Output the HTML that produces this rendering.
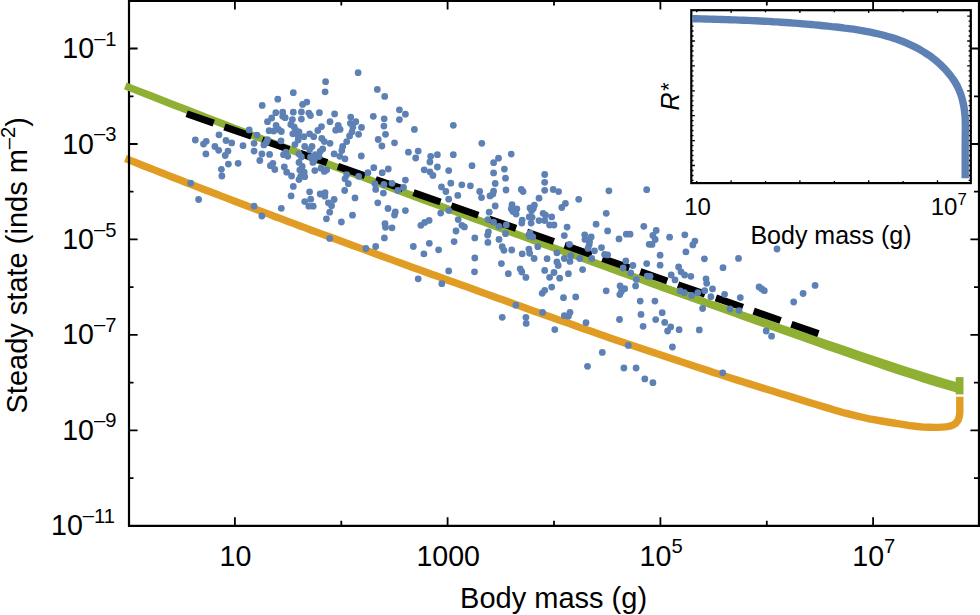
<!DOCTYPE html>
<html lang="en"><head><meta charset="utf-8"><title>Steady state vs body mass</title>
<style>html,body{margin:0;padding:0;background:#fff}body{width:980px;height:615px;overflow:hidden}svg{display:block}text{font-family:"Liberation Sans",Arial,Helvetica,sans-serif;fill:#000}</style></head><body>
<svg width="980" height="615" viewBox="0 0 980 615">
<rect x="0" y="0" width="980" height="615" fill="#fff"/>
<path d="M125.4,158.5 L131.4,160.9 L137.4,163.3 L143.4,165.7 L149.4,168.0 L155.4,170.4 L161.4,172.8 L167.4,175.1 L173.4,177.5 L179.4,179.8 L185.4,182.2 L191.4,184.5 L197.4,186.9 L203.4,189.2 L209.4,191.5 L215.4,193.8 L221.4,196.1 L227.4,198.4 L233.4,200.7 L239.4,203.0 L245.4,205.3 L251.4,207.6 L257.4,209.9 L263.4,212.2 L269.4,214.4 L275.4,216.7 L281.4,218.9 L287.4,221.2 L293.4,223.4 L299.4,225.7 L305.4,227.9 L311.4,230.2 L317.4,232.4 L323.4,234.6 L329.4,236.8 L335.4,239.0 L341.4,241.3 L347.4,243.5 L353.4,245.7 L359.4,247.9 L365.4,250.1 L371.4,252.3 L377.4,254.5 L383.4,256.7 L389.4,258.9 L395.4,261.1 L401.4,263.3 L407.4,265.5 L413.4,267.7 L419.4,269.8 L425.4,272.0 L431.4,274.2 L437.4,276.3 L443.4,278.5 L449.4,280.7 L455.4,282.8 L461.4,285.0 L467.4,287.1 L473.4,289.3 L479.4,291.4 L485.4,293.6 L491.4,295.8 L497.4,298.0 L503.4,300.1 L509.4,302.3 L515.4,304.5 L521.4,306.6 L527.4,308.8 L533.4,310.9 L539.4,313.0 L545.4,315.2 L551.4,317.3 L557.4,319.4 L563.4,321.5 L569.4,323.6 L575.4,325.8 L581.4,327.9 L587.4,330.0 L593.4,332.1 L599.4,334.2 L605.4,336.3 L611.4,338.4 L617.4,340.5 L623.4,342.6 L629.4,344.6 L635.4,346.6 L641.4,348.6 L647.4,350.6 L653.4,352.6 L659.4,354.6 L665.4,356.6 L671.4,358.6 L677.4,360.6 L683.4,362.5 L689.4,364.5 L695.4,366.5 L701.4,368.5 L707.4,370.4 L713.4,372.4 L719.4,374.3 L725.4,376.3 L731.4,378.2 L737.4,380.1 L743.4,382.0 L749.4,383.9 L755.4,385.8 L761.4,387.6 L767.4,389.5 L773.4,391.3 L779.4,393.2 L785.4,395.0 L791.4,396.9 L797.4,398.8 L803.4,400.6 L809.4,402.5 L815.4,404.3 L821.4,406.1 L827.4,407.9 L833.4,409.7 L839.4,411.5 L845.4,413.2 L851.4,414.7 L857.4,416.1 L863.4,417.5 L869.4,418.8 L875.4,419.9 L881.4,421.0 L887.4,422.0 L893.4,423.0 L899.4,423.9 L905.4,424.9 L911.4,425.8 L917.4,426.5 L923.4,427.1 L929.4,427.3 L935.4,427.4 L936,427.4 C950,427.6 959.8,426 959.8,412 L959.8,396.7" fill="none" stroke="#E19C24" stroke-width="7.4" stroke-linejoin="round"/>
<g stroke="#000" fill="none">
<path d="M129.0,0 V525.8 H980" stroke-width="2.2"/>
<path d="M129.0,0.9 H980" stroke-width="2"/>
<path d="M979.0,0 V525.8" stroke-width="2.2"/>
<path d="M234.9,525.8 v-8.5 M234.9,0.9 v8.6 M341.3,525.8 v-5 M341.3,0.9 v4.6 M447.6,525.8 v-8.5 M447.6,0.9 v8.6 M554.0,525.8 v-5 M554.0,0.9 v4.6 M660.4,525.8 v-8.5 M660.4,0.9 v8.6 M766.8,525.8 v-5 M766.8,0.9 v4.6 M873.1,525.8 v-8.5 M873.1,0.9 v8.6 M129.0,478.1 h4.5 M979.0,478.1 h-5 M129.0,430.3 h8.6 M979.0,430.3 h-8.6 M129.0,382.6 h4.5 M979.0,382.6 h-5 M129.0,334.9 h8.6 M979.0,334.9 h-8.6 M129.0,287.2 h4.5 M979.0,287.2 h-5 M129.0,239.4 h8.6 M979.0,239.4 h-8.6 M129.0,191.7 h4.5 M979.0,191.7 h-5 M129.0,144.0 h8.6 M979.0,144.0 h-8.6 M129.0,96.3 h4.5 M979.0,96.3 h-5 M129.0,48.5 h8.6 M979.0,48.5 h-8.6" stroke-width="1.8"/>
</g>
<path d="M125.3,85.9 L137.3,90.6 L149.3,95.3 L161.3,100.0 L173.3,104.7 L185.3,109.3 L197.3,114.0 L209.3,118.6 L221.3,123.3 L233.3,127.9 L245.3,132.5 L257.3,137.1 L269.3,141.7 L281.3,146.3 L293.3,150.8 L305.3,155.4 L317.3,160.0 L329.3,164.5 L341.3,169.0 L353.3,173.5 L365.3,178.1 L377.3,182.6 L389.3,187.0 L401.3,191.5 L413.3,196.0 L425.3,200.5 L437.3,204.9 L449.3,209.4 L461.3,213.8 L473.3,218.2 L485.3,222.6 L497.3,227.1 L509.3,231.5 L521.3,235.9 L533.3,240.3 L545.3,244.7 L557.3,249.1 L569.3,253.5 L581.3,257.8 L593.3,262.2 L605.3,266.6 L617.3,270.9 L629.3,275.3 L641.3,279.6 L653.3,283.9 L665.3,288.2 L677.3,292.5 L689.3,296.7 L701.3,300.9 L713.3,305.1 L725.3,309.3 L737.3,313.4 L749.3,317.5 L761.3,321.6 L773.3,325.7 L785.3,329.8 L797.3,333.9 L809.3,338.0 L821.3,342.0 L833.3,346.1 L845.3,350.1 L857.3,354.2 L869.3,358.2 L881.3,362.2 L893.3,366.3 L905.3,370.2 L917.3,374.1 L929.3,377.9 L941.3,381.5 L953.3,385.1 L959.8,387.0" fill="none" stroke="#8FB032" stroke-width="7.4" stroke-linejoin="round"/>
<path d="M660.0,286.3 L672.0,290.6 L684.0,294.8 L696.0,299.1 L708.0,303.4 L720.0,307.7 L732.0,312.1 L744.0,316.4 L756.0,320.7 L768.0,325.0 L780.0,329.3 L792.0,333.6 L804.0,337.8 L816.0,342.1 L828.0,346.4 L840.0,350.6 L852.0,354.8 L864.0,358.9 L876.0,363.1 L888.0,367.2 L900.0,371.2 L912.0,375.1 L924.0,378.9 L936.0,382.6 L948.0,386.3 L959.8,389.7" fill="none" stroke="#8FB032" stroke-width="7.4" stroke-linejoin="round"/>
<path d="M959.6,377.1 V394.4" fill="none" stroke="#8FB032" stroke-width="7.8"/>
<path d="M186.7,113.72 L818.5,333.65" fill="none" stroke="#000" stroke-width="7" stroke-dasharray="28.6 11.42"/>
<g fill="#5E81B5">
<circle cx="325.6" cy="81.7" r="3.4"/>
<circle cx="325.1" cy="91.8" r="3.4"/>
<circle cx="293.3" cy="92.7" r="3.4"/>
<circle cx="277.8" cy="99.2" r="3.4"/>
<circle cx="262.2" cy="105.4" r="3.4"/>
<circle cx="306.8" cy="102.1" r="3.4"/>
<circle cx="302.6" cy="104.4" r="3.4"/>
<circle cx="275.8" cy="112.7" r="3.4"/>
<circle cx="282.7" cy="112.2" r="3.4"/>
<circle cx="293.3" cy="112.2" r="3.4"/>
<circle cx="301.4" cy="111.9" r="3.4"/>
<circle cx="308.8" cy="113.1" r="3.4"/>
<circle cx="310.4" cy="115.5" r="3.4"/>
<circle cx="319.4" cy="112.7" r="3.4"/>
<circle cx="271.7" cy="118.0" r="3.4"/>
<circle cx="267.5" cy="121.7" r="3.4"/>
<circle cx="282.7" cy="116.3" r="3.4"/>
<circle cx="292.4" cy="119.6" r="3.4"/>
<circle cx="301.4" cy="119.1" r="3.4"/>
<circle cx="276.1" cy="125.3" r="3.4"/>
<circle cx="290.8" cy="124.5" r="3.4"/>
<circle cx="294.1" cy="126.9" r="3.4"/>
<circle cx="269.1" cy="130.7" r="3.4"/>
<circle cx="273.7" cy="131.0" r="3.4"/>
<circle cx="278.6" cy="129.4" r="3.4"/>
<circle cx="281.3" cy="131.5" r="3.4"/>
<circle cx="321.5" cy="126.6" r="3.4"/>
<circle cx="317.8" cy="130.5" r="3.4"/>
<circle cx="295.7" cy="130.2" r="3.4"/>
<circle cx="299.0" cy="131.8" r="3.4"/>
<circle cx="292.8" cy="133.8" r="3.4"/>
<circle cx="298.2" cy="135.9" r="3.4"/>
<circle cx="303.9" cy="136.7" r="3.4"/>
<circle cx="309.6" cy="133.8" r="3.4"/>
<circle cx="313.7" cy="136.7" r="3.4"/>
<circle cx="249.2" cy="129.9" r="3.4"/>
<circle cx="257.0" cy="135.1" r="3.4"/>
<circle cx="219.0" cy="134.8" r="3.4"/>
<circle cx="195.3" cy="140.0" r="3.4"/>
<circle cx="206.2" cy="141.3" r="3.4"/>
<circle cx="203.5" cy="144.1" r="3.4"/>
<circle cx="226.0" cy="140.5" r="3.4"/>
<circle cx="231.7" cy="142.9" r="3.4"/>
<circle cx="243.0" cy="145.7" r="3.4"/>
<circle cx="254.1" cy="143.3" r="3.4"/>
<circle cx="267.5" cy="139.7" r="3.4"/>
<circle cx="266.3" cy="142.4" r="3.4"/>
<circle cx="263.9" cy="144.9" r="3.4"/>
<circle cx="281.0" cy="140.8" r="3.4"/>
<circle cx="298.2" cy="140.0" r="3.4"/>
<circle cx="294.9" cy="144.6" r="3.4"/>
<circle cx="321.8" cy="138.4" r="3.4"/>
<circle cx="324.3" cy="141.6" r="3.4"/>
<circle cx="214.9" cy="146.5" r="3.4"/>
<circle cx="218.7" cy="150.3" r="3.4"/>
<circle cx="228.0" cy="151.1" r="3.4"/>
<circle cx="225.2" cy="155.5" r="3.4"/>
<circle cx="205.9" cy="153.9" r="3.4"/>
<circle cx="254.1" cy="151.1" r="3.4"/>
<circle cx="261.9" cy="153.9" r="3.4"/>
<circle cx="269.6" cy="154.4" r="3.4"/>
<circle cx="285.9" cy="152.2" r="3.4"/>
<circle cx="283.5" cy="154.7" r="3.4"/>
<circle cx="304.7" cy="146.5" r="3.4"/>
<circle cx="312.0" cy="146.5" r="3.4"/>
<circle cx="309.6" cy="149.8" r="3.4"/>
<circle cx="322.7" cy="149.0" r="3.4"/>
<circle cx="320.2" cy="151.4" r="3.4"/>
<circle cx="299.0" cy="153.9" r="3.4"/>
<circle cx="315.3" cy="154.7" r="3.4"/>
<circle cx="330.0" cy="121.7" r="3.4"/>
<circle cx="228.4" cy="164.1" r="3.4"/>
<circle cx="238.1" cy="163.3" r="3.4"/>
<circle cx="221.4" cy="169.3" r="3.4"/>
<circle cx="221.9" cy="176.0" r="3.4"/>
<circle cx="190.7" cy="183.2" r="3.4"/>
<circle cx="198.6" cy="199.5" r="3.4"/>
<circle cx="254.1" cy="206.2" r="3.4"/>
<circle cx="261.9" cy="216.0" r="3.4"/>
<circle cx="281.3" cy="208.3" r="3.4"/>
<circle cx="259.8" cy="160.5" r="3.4"/>
<circle cx="270.4" cy="165.7" r="3.4"/>
<circle cx="272.9" cy="163.3" r="3.4"/>
<circle cx="274.8" cy="169.5" r="3.4"/>
<circle cx="284.3" cy="166.9" r="3.4"/>
<circle cx="286.7" cy="172.2" r="3.4"/>
<circle cx="291.6" cy="176.0" r="3.4"/>
<circle cx="299.0" cy="162.4" r="3.4"/>
<circle cx="302.2" cy="166.5" r="3.4"/>
<circle cx="299.8" cy="170.1" r="3.4"/>
<circle cx="304.2" cy="172.2" r="3.4"/>
<circle cx="300.6" cy="176.3" r="3.4"/>
<circle cx="304.7" cy="176.7" r="3.4"/>
<circle cx="299.0" cy="179.6" r="3.4"/>
<circle cx="312.9" cy="162.4" r="3.4"/>
<circle cx="314.8" cy="170.6" r="3.4"/>
<circle cx="321.0" cy="168.2" r="3.4"/>
<circle cx="324.3" cy="171.4" r="3.4"/>
<circle cx="326.7" cy="169.8" r="3.4"/>
<circle cx="293.3" cy="186.4" r="3.4"/>
<circle cx="291.1" cy="195.9" r="3.4"/>
<circle cx="309.6" cy="191.8" r="3.4"/>
<circle cx="320.2" cy="194.0" r="3.4"/>
<circle cx="325.1" cy="192.7" r="3.4"/>
<circle cx="324.8" cy="196.2" r="3.4"/>
<circle cx="310.7" cy="199.2" r="3.4"/>
<circle cx="304.7" cy="201.6" r="3.4"/>
<circle cx="308.8" cy="206.2" r="3.4"/>
<circle cx="313.2" cy="206.2" r="3.4"/>
<circle cx="328.4" cy="202.8" r="3.4"/>
<circle cx="326.4" cy="218.8" r="3.4"/>
<circle cx="329.7" cy="212.2" r="3.4"/>
<circle cx="329.7" cy="238.4" r="3.4"/>
<circle cx="358.1" cy="72.7" r="3.4"/>
<circle cx="377.3" cy="89.4" r="3.4"/>
<circle cx="384.7" cy="96.4" r="3.4"/>
<circle cx="399.4" cy="109.8" r="3.4"/>
<circle cx="405.4" cy="114.2" r="3.4"/>
<circle cx="399.4" cy="119.6" r="3.4"/>
<circle cx="334.6" cy="113.9" r="3.4"/>
<circle cx="350.7" cy="117.1" r="3.4"/>
<circle cx="373.3" cy="116.3" r="3.4"/>
<circle cx="384.2" cy="118.8" r="3.4"/>
<circle cx="338.2" cy="125.3" r="3.4"/>
<circle cx="355.8" cy="121.7" r="3.4"/>
<circle cx="350.4" cy="123.3" r="3.4"/>
<circle cx="352.9" cy="126.9" r="3.4"/>
<circle cx="361.5" cy="127.4" r="3.4"/>
<circle cx="383.9" cy="126.1" r="3.4"/>
<circle cx="335.7" cy="130.2" r="3.4"/>
<circle cx="340.1" cy="129.4" r="3.4"/>
<circle cx="352.0" cy="131.8" r="3.4"/>
<circle cx="349.6" cy="135.9" r="3.4"/>
<circle cx="358.6" cy="134.3" r="3.4"/>
<circle cx="385.5" cy="134.3" r="3.4"/>
<circle cx="378.2" cy="139.5" r="3.4"/>
<circle cx="346.7" cy="141.6" r="3.4"/>
<circle cx="330.0" cy="143.3" r="3.4"/>
<circle cx="394.5" cy="142.8" r="3.4"/>
<circle cx="381.9" cy="146.0" r="3.4"/>
<circle cx="342.7" cy="146.5" r="3.4"/>
<circle cx="341.8" cy="150.6" r="3.4"/>
<circle cx="334.1" cy="153.9" r="3.4"/>
<circle cx="339.8" cy="156.3" r="3.4"/>
<circle cx="345.0" cy="158.8" r="3.4"/>
<circle cx="361.3" cy="156.0" r="3.4"/>
<circle cx="414.4" cy="129.4" r="3.4"/>
<circle cx="453.3" cy="125.3" r="3.4"/>
<circle cx="481.8" cy="143.3" r="3.4"/>
<circle cx="408.4" cy="152.2" r="3.4"/>
<circle cx="418.2" cy="151.1" r="3.4"/>
<circle cx="415.7" cy="158.0" r="3.4"/>
<circle cx="430.7" cy="156.3" r="3.4"/>
<circle cx="437.4" cy="154.7" r="3.4"/>
<circle cx="453.3" cy="154.7" r="3.4"/>
<circle cx="373.8" cy="167.7" r="3.4"/>
<circle cx="388.3" cy="169.0" r="3.4"/>
<circle cx="382.2" cy="172.7" r="3.4"/>
<circle cx="367.9" cy="172.7" r="3.4"/>
<circle cx="358.6" cy="176.3" r="3.4"/>
<circle cx="346.7" cy="174.7" r="3.4"/>
<circle cx="345.0" cy="178.8" r="3.4"/>
<circle cx="348.3" cy="183.7" r="3.4"/>
<circle cx="344.7" cy="190.5" r="3.4"/>
<circle cx="405.4" cy="180.1" r="3.4"/>
<circle cx="392.0" cy="183.3" r="3.4"/>
<circle cx="383.9" cy="184.5" r="3.4"/>
<circle cx="374.9" cy="183.7" r="3.4"/>
<circle cx="403.5" cy="187.4" r="3.4"/>
<circle cx="397.8" cy="190.5" r="3.4"/>
<circle cx="375.7" cy="189.4" r="3.4"/>
<circle cx="383.4" cy="193.1" r="3.4"/>
<circle cx="355.0" cy="197.9" r="3.4"/>
<circle cx="334.1" cy="199.5" r="3.4"/>
<circle cx="331.6" cy="205.7" r="3.4"/>
<circle cx="377.8" cy="202.8" r="3.4"/>
<circle cx="388.0" cy="208.5" r="3.4"/>
<circle cx="395.3" cy="211.9" r="3.4"/>
<circle cx="394.5" cy="215.0" r="3.4"/>
<circle cx="405.4" cy="210.6" r="3.4"/>
<circle cx="352.5" cy="215.2" r="3.4"/>
<circle cx="341.4" cy="222.0" r="3.4"/>
<circle cx="385.0" cy="223.7" r="3.4"/>
<circle cx="385.5" cy="227.3" r="3.4"/>
<circle cx="392.0" cy="227.8" r="3.4"/>
<circle cx="384.4" cy="237.9" r="3.4"/>
<circle cx="365.9" cy="248.5" r="3.4"/>
<circle cx="375.7" cy="246.5" r="3.4"/>
<circle cx="429.9" cy="162.0" r="3.4"/>
<circle cx="437.4" cy="167.0" r="3.4"/>
<circle cx="424.2" cy="169.8" r="3.4"/>
<circle cx="429.9" cy="171.8" r="3.4"/>
<circle cx="432.9" cy="175.5" r="3.4"/>
<circle cx="448.7" cy="170.6" r="3.4"/>
<circle cx="472.0" cy="165.7" r="3.4"/>
<circle cx="450.8" cy="183.2" r="3.4"/>
<circle cx="441.5" cy="186.9" r="3.4"/>
<circle cx="445.9" cy="191.5" r="3.4"/>
<circle cx="461.8" cy="184.8" r="3.4"/>
<circle cx="470.4" cy="185.8" r="3.4"/>
<circle cx="479.7" cy="191.5" r="3.4"/>
<circle cx="481.5" cy="197.6" r="3.4"/>
<circle cx="457.8" cy="195.4" r="3.4"/>
<circle cx="448.7" cy="199.2" r="3.4"/>
<circle cx="440.7" cy="213.1" r="3.4"/>
<circle cx="448.9" cy="210.6" r="3.4"/>
<circle cx="429.1" cy="220.4" r="3.4"/>
<circle cx="424.7" cy="222.4" r="3.4"/>
<circle cx="420.9" cy="225.3" r="3.4"/>
<circle cx="458.2" cy="219.6" r="3.4"/>
<circle cx="461.9" cy="225.3" r="3.4"/>
<circle cx="464.4" cy="226.9" r="3.4"/>
<circle cx="456.0" cy="231.0" r="3.4"/>
<circle cx="454.1" cy="241.6" r="3.4"/>
<circle cx="474.8" cy="237.9" r="3.4"/>
<circle cx="487.9" cy="219.6" r="3.4"/>
<circle cx="489.2" cy="212.2" r="3.4"/>
<circle cx="488.4" cy="231.8" r="3.4"/>
<circle cx="487.6" cy="235.1" r="3.4"/>
<circle cx="487.9" cy="242.4" r="3.4"/>
<circle cx="429.3" cy="243.3" r="3.4"/>
<circle cx="413.3" cy="246.5" r="3.4"/>
<circle cx="438.6" cy="249.8" r="3.4"/>
<circle cx="423.9" cy="253.9" r="3.4"/>
<circle cx="474.8" cy="258.0" r="3.4"/>
<circle cx="490.0" cy="195.9" r="3.4"/>
<circle cx="511.2" cy="154.1" r="3.4"/>
<circle cx="498.5" cy="158.2" r="3.4"/>
<circle cx="493.6" cy="162.7" r="3.4"/>
<circle cx="504.4" cy="169.1" r="3.4"/>
<circle cx="493.6" cy="172.9" r="3.4"/>
<circle cx="505.5" cy="178.2" r="3.4"/>
<circle cx="495.2" cy="183.5" r="3.4"/>
<circle cx="544.7" cy="174.5" r="3.4"/>
<circle cx="544.7" cy="182.3" r="3.4"/>
<circle cx="506.0" cy="190.0" r="3.4"/>
<circle cx="521.3" cy="189.5" r="3.4"/>
<circle cx="523.1" cy="191.6" r="3.4"/>
<circle cx="544.7" cy="190.3" r="3.4"/>
<circle cx="553.2" cy="189.5" r="3.4"/>
<circle cx="558.6" cy="191.6" r="3.4"/>
<circle cx="493.6" cy="191.1" r="3.4"/>
<circle cx="492.9" cy="194.1" r="3.4"/>
<circle cx="539.0" cy="198.2" r="3.4"/>
<circle cx="578.7" cy="199.3" r="3.4"/>
<circle cx="608.9" cy="190.8" r="3.4"/>
<circle cx="646.7" cy="189.7" r="3.4"/>
<circle cx="495.2" cy="206.0" r="3.4"/>
<circle cx="512.0" cy="204.7" r="3.4"/>
<circle cx="511.2" cy="208.8" r="3.4"/>
<circle cx="516.9" cy="208.8" r="3.4"/>
<circle cx="534.4" cy="205.2" r="3.4"/>
<circle cx="530.0" cy="208.0" r="3.4"/>
<circle cx="533.3" cy="208.4" r="3.4"/>
<circle cx="565.4" cy="203.4" r="3.4"/>
<circle cx="561.8" cy="207.5" r="3.4"/>
<circle cx="512.9" cy="211.6" r="3.4"/>
<circle cx="516.1" cy="214.1" r="3.4"/>
<circle cx="531.6" cy="210.8" r="3.4"/>
<circle cx="529.2" cy="216.9" r="3.4"/>
<circle cx="532.1" cy="217.3" r="3.4"/>
<circle cx="543.1" cy="213.3" r="3.4"/>
<circle cx="545.5" cy="215.2" r="3.4"/>
<circle cx="551.7" cy="216.9" r="3.4"/>
<circle cx="522.2" cy="220.1" r="3.4"/>
<circle cx="521.8" cy="223.1" r="3.4"/>
<circle cx="531.1" cy="223.1" r="3.4"/>
<circle cx="539.0" cy="220.6" r="3.4"/>
<circle cx="544.7" cy="220.6" r="3.4"/>
<circle cx="549.6" cy="225.0" r="3.4"/>
<circle cx="554.0" cy="225.0" r="3.4"/>
<circle cx="493.6" cy="222.2" r="3.4"/>
<circle cx="499.0" cy="226.3" r="3.4"/>
<circle cx="506.3" cy="225.0" r="3.4"/>
<circle cx="505.5" cy="233.7" r="3.4"/>
<circle cx="499.0" cy="239.4" r="3.4"/>
<circle cx="530.0" cy="232.9" r="3.4"/>
<circle cx="529.2" cy="236.1" r="3.4"/>
<circle cx="532.8" cy="236.9" r="3.4"/>
<circle cx="567.1" cy="227.1" r="3.4"/>
<circle cx="564.3" cy="235.6" r="3.4"/>
<circle cx="606.2" cy="213.3" r="3.4"/>
<circle cx="596.1" cy="224.2" r="3.4"/>
<circle cx="607.6" cy="230.9" r="3.4"/>
<circle cx="643.8" cy="226.3" r="3.4"/>
<circle cx="626.3" cy="234.2" r="3.4"/>
<circle cx="630.1" cy="234.2" r="3.4"/>
<circle cx="619.0" cy="238.9" r="3.4"/>
<circle cx="584.7" cy="234.8" r="3.4"/>
<circle cx="591.2" cy="236.9" r="3.4"/>
<circle cx="585.0" cy="239.4" r="3.4"/>
<circle cx="589.6" cy="241.8" r="3.4"/>
<circle cx="589.1" cy="245.1" r="3.4"/>
<circle cx="588.0" cy="248.4" r="3.4"/>
<circle cx="569.5" cy="244.3" r="3.4"/>
<circle cx="601.5" cy="247.6" r="3.4"/>
<circle cx="594.5" cy="250.8" r="3.4"/>
<circle cx="604.6" cy="254.4" r="3.4"/>
<circle cx="607.6" cy="254.9" r="3.4"/>
<circle cx="502.2" cy="246.7" r="3.4"/>
<circle cx="503.9" cy="250.3" r="3.4"/>
<circle cx="511.7" cy="250.0" r="3.4"/>
<circle cx="528.9" cy="249.2" r="3.4"/>
<circle cx="537.8" cy="246.7" r="3.4"/>
<circle cx="522.2" cy="253.8" r="3.4"/>
<circle cx="529.7" cy="253.3" r="3.4"/>
<circle cx="534.1" cy="258.5" r="3.4"/>
<circle cx="556.9" cy="252.8" r="3.4"/>
<circle cx="547.1" cy="258.7" r="3.4"/>
<circle cx="564.3" cy="258.5" r="3.4"/>
<circle cx="570.8" cy="255.7" r="3.4"/>
<circle cx="579.8" cy="258.5" r="3.4"/>
<circle cx="591.7" cy="258.5" r="3.4"/>
<circle cx="570.0" cy="261.4" r="3.4"/>
<circle cx="556.9" cy="261.9" r="3.4"/>
<circle cx="558.2" cy="265.5" r="3.4"/>
<circle cx="501.4" cy="263.6" r="3.4"/>
<circle cx="520.2" cy="268.8" r="3.4"/>
<circle cx="521.8" cy="272.0" r="3.4"/>
<circle cx="508.3" cy="273.7" r="3.4"/>
<circle cx="525.9" cy="277.4" r="3.4"/>
<circle cx="544.7" cy="270.4" r="3.4"/>
<circle cx="554.0" cy="272.5" r="3.4"/>
<circle cx="549.6" cy="277.3" r="3.4"/>
<circle cx="559.7" cy="278.2" r="3.4"/>
<circle cx="568.4" cy="273.7" r="3.4"/>
<circle cx="582.6" cy="269.6" r="3.4"/>
<circle cx="625.8" cy="260.9" r="3.4"/>
<circle cx="632.9" cy="265.5" r="3.4"/>
<circle cx="623.1" cy="268.0" r="3.4"/>
<circle cx="646.7" cy="263.6" r="3.4"/>
<circle cx="630.7" cy="272.9" r="3.4"/>
<circle cx="647.2" cy="276.1" r="3.4"/>
<circle cx="636.4" cy="279.4" r="3.4"/>
<circle cx="635.6" cy="285.9" r="3.4"/>
<circle cx="620.1" cy="285.9" r="3.4"/>
<circle cx="624.7" cy="288.7" r="3.4"/>
<circle cx="621.4" cy="291.6" r="3.4"/>
<circle cx="619.8" cy="294.6" r="3.4"/>
<circle cx="606.2" cy="290.8" r="3.4"/>
<circle cx="551.7" cy="287.1" r="3.4"/>
<circle cx="544.7" cy="290.3" r="3.4"/>
<circle cx="542.2" cy="293.3" r="3.4"/>
<circle cx="563.5" cy="297.7" r="3.4"/>
<circle cx="575.7" cy="296.9" r="3.4"/>
<circle cx="640.2" cy="301.1" r="3.4"/>
<circle cx="515.8" cy="305.2" r="3.4"/>
<circle cx="649.2" cy="244.3" r="3.4"/>
<circle cx="502.2" cy="317.3" r="3.4"/>
<circle cx="525.9" cy="317.3" r="3.4"/>
<circle cx="526.2" cy="323.4" r="3.4"/>
<circle cx="542.6" cy="312.4" r="3.4"/>
<circle cx="564.3" cy="315.7" r="3.4"/>
<circle cx="568.4" cy="316.2" r="3.4"/>
<circle cx="570.0" cy="312.4" r="3.4"/>
<circle cx="554.8" cy="329.6" r="3.4"/>
<circle cx="586.0" cy="322.7" r="3.4"/>
<circle cx="619.5" cy="319.5" r="3.4"/>
<circle cx="641.0" cy="314.4" r="3.4"/>
<circle cx="643.1" cy="326.3" r="3.4"/>
<circle cx="628.3" cy="345.4" r="3.4"/>
<circle cx="602.3" cy="352.4" r="3.4"/>
<circle cx="587.5" cy="366.3" r="3.4"/>
<circle cx="623.9" cy="368.0" r="3.4"/>
<circle cx="636.1" cy="368.0" r="3.4"/>
<circle cx="644.8" cy="378.9" r="3.4"/>
<circle cx="656.2" cy="230.5" r="3.4"/>
<circle cx="652.9" cy="235.4" r="3.4"/>
<circle cx="655.2" cy="239.5" r="3.4"/>
<circle cx="652.0" cy="244.4" r="3.4"/>
<circle cx="669.6" cy="237.2" r="3.4"/>
<circle cx="684.8" cy="234.8" r="3.4"/>
<circle cx="694.9" cy="241.1" r="3.4"/>
<circle cx="692.8" cy="244.9" r="3.4"/>
<circle cx="685.9" cy="251.9" r="3.4"/>
<circle cx="660.1" cy="255.2" r="3.4"/>
<circle cx="777.0" cy="249.0" r="3.4"/>
<circle cx="704.4" cy="258.8" r="3.4"/>
<circle cx="738.5" cy="258.4" r="3.4"/>
<circle cx="660.1" cy="265.2" r="3.4"/>
<circle cx="678.6" cy="266.9" r="3.4"/>
<circle cx="681.0" cy="271.8" r="3.4"/>
<circle cx="684.6" cy="275.0" r="3.4"/>
<circle cx="690.8" cy="276.3" r="3.4"/>
<circle cx="671.2" cy="275.0" r="3.4"/>
<circle cx="675.0" cy="279.9" r="3.4"/>
<circle cx="723.0" cy="267.7" r="3.4"/>
<circle cx="706.0" cy="278.8" r="3.4"/>
<circle cx="706.7" cy="283.3" r="3.4"/>
<circle cx="712.5" cy="288.9" r="3.4"/>
<circle cx="704.7" cy="290.7" r="3.4"/>
<circle cx="680.2" cy="291.0" r="3.4"/>
<circle cx="684.3" cy="292.7" r="3.4"/>
<circle cx="691.6" cy="295.4" r="3.4"/>
<circle cx="697.8" cy="292.7" r="3.4"/>
<circle cx="710.9" cy="296.7" r="3.4"/>
<circle cx="724.6" cy="294.3" r="3.4"/>
<circle cx="740.3" cy="297.6" r="3.4"/>
<circle cx="730.0" cy="309.0" r="3.4"/>
<circle cx="739.0" cy="310.6" r="3.4"/>
<circle cx="702.6" cy="308.5" r="3.4"/>
<circle cx="654.9" cy="301.1" r="3.4"/>
<circle cx="662.2" cy="312.7" r="3.4"/>
<circle cx="655.7" cy="319.6" r="3.4"/>
<circle cx="664.7" cy="322.4" r="3.4"/>
<circle cx="670.7" cy="326.9" r="3.4"/>
<circle cx="667.6" cy="331.0" r="3.4"/>
<circle cx="679.1" cy="329.7" r="3.4"/>
<circle cx="699.3" cy="329.9" r="3.4"/>
<circle cx="672.4" cy="347.0" r="3.4"/>
<circle cx="759.1" cy="286.9" r="3.4"/>
<circle cx="761.8" cy="288.9" r="3.4"/>
<circle cx="764.3" cy="290.7" r="3.4"/>
<circle cx="803.1" cy="293.5" r="3.4"/>
<circle cx="793.7" cy="302.0" r="3.4"/>
<circle cx="766.2" cy="331.0" r="3.4"/>
<circle cx="771.6" cy="336.2" r="3.4"/>
<circle cx="650.0" cy="276.3" r="3.4"/>
<circle cx="722.7" cy="372.8" r="3.4"/>
<circle cx="652.9" cy="382.7" r="3.4"/>
<circle cx="815.1" cy="285.4" r="3.4"/>
<circle cx="285.2" cy="117.7" r="3.4"/>
<circle cx="287.8" cy="156.3" r="3.4"/>
<circle cx="301.4" cy="156.9" r="3.4"/>
<circle cx="310.5" cy="157.2" r="3.4"/>
<circle cx="319.0" cy="156.6" r="3.4"/>
<circle cx="314.4" cy="159.8" r="3.4"/>
<circle cx="418.2" cy="278.8" r="3.4"/>
<circle cx="441.8" cy="283.7" r="3.4"/>
<circle cx="448.7" cy="270.9" r="3.4"/>
<circle cx="474.5" cy="271.8" r="3.4"/>
</g>
<rect x="691.3" y="10.2" width="279.5" height="172.9" fill="#fff" stroke="#000" stroke-width="2.2"/>
<path d="M691.3,16.1 h3.6 M970.8,16.1 h-3.6 M691.3,21.1 h2.2 M970.8,21.1 h-2.2 M691.3,26.1 h2.2 M970.8,26.1 h-2.2 M691.3,31.0 h2.2 M970.8,31.0 h-2.2 M691.3,36.0 h2.2 M970.8,36.0 h-2.2 M691.3,41.0 h3.6 M970.8,41.0 h-3.6 M691.3,46.0 h2.2 M970.8,46.0 h-2.2 M691.3,51.0 h2.2 M970.8,51.0 h-2.2 M691.3,55.9 h2.2 M970.8,55.9 h-2.2 M691.3,60.9 h2.2 M970.8,60.9 h-2.2 M691.3,65.9 h3.6 M970.8,65.9 h-3.6 M691.3,70.9 h2.2 M970.8,70.9 h-2.2 M691.3,75.9 h2.2 M970.8,75.9 h-2.2 M691.3,80.8 h2.2 M970.8,80.8 h-2.2 M691.3,85.8 h2.2 M970.8,85.8 h-2.2 M691.3,90.8 h3.6 M970.8,90.8 h-3.6 M691.3,95.8 h2.2 M970.8,95.8 h-2.2 M691.3,100.8 h2.2 M970.8,100.8 h-2.2 M691.3,105.7 h2.2 M970.8,105.7 h-2.2 M691.3,110.7 h2.2 M970.8,110.7 h-2.2 M691.3,115.7 h3.6 M970.8,115.7 h-3.6 M691.3,120.7 h2.2 M970.8,120.7 h-2.2 M691.3,125.7 h2.2 M970.8,125.7 h-2.2 M691.3,130.6 h2.2 M970.8,130.6 h-2.2 M691.3,135.6 h2.2 M970.8,135.6 h-2.2 M691.3,140.6 h3.6 M970.8,140.6 h-3.6 M691.3,145.6 h2.2 M970.8,145.6 h-2.2 M691.3,150.6 h2.2 M970.8,150.6 h-2.2 M691.3,155.5 h2.2 M970.8,155.5 h-2.2 M691.3,160.5 h2.2 M970.8,160.5 h-2.2 M691.3,165.5 h3.6 M970.8,165.5 h-3.6 M691.3,170.5 h2.2 M970.8,170.5 h-2.2 M691.3,175.5 h2.2 M970.8,175.5 h-2.2 M691.3,180.4 h2.2 M970.8,180.4 h-2.2 M696.7,183.1 v-2.0 M696.7,10.2 v2.0 M731.1,183.1 v-2.9 M731.1,10.2 v2.9 M765.5,183.1 v-2.0 M765.5,10.2 v2.0 M799.9,183.1 v-2.9 M799.9,10.2 v2.9 M834.3,183.1 v-2.0 M834.3,10.2 v2.0 M868.7,183.1 v-2.9 M868.7,10.2 v2.9 M903.1,183.1 v-2.0 M903.1,10.2 v2.0 M937.5,183.1 v-2.9 M937.5,10.2 v2.9" fill="none" stroke="#000" stroke-width="1.3"/>
<path d="M692.2,18.7 L696.6,18.8 L700.9,18.9 L705.2,19.0 L709.5,19.1 L713.8,19.2 L718.1,19.4 L722.3,19.5 L726.6,19.6 L730.8,19.8 L735.0,19.9 L739.3,20.1 L743.5,20.2 L747.7,20.4 L751.9,20.6 L756.1,20.8 L760.3,21.0 L764.5,21.2 L768.7,21.4 L772.9,21.7 L777.0,21.9 L781.2,22.2 L785.4,22.5 L789.6,22.8 L793.8,23.1 L798.0,23.4 L802.2,23.8 L806.4,24.1 L810.7,24.5 L814.9,24.9 L819.1,25.3 L823.4,25.7 L827.6,26.1 L831.9,26.6 L836.2,27.0 L840.4,27.5 L844.7,28.1 L849.0,28.6 L853.3,29.2 L857.6,29.9 L861.8,30.6 L866.0,31.4 L870.3,32.2 L874.5,33.1 L878.6,34.0 L882.8,35.0 L886.9,36.2 L890.9,37.3 L895.0,38.6 L898.9,40.0 L902.9,41.5 L906.7,43.1 L910.5,44.8 L914.3,46.6 L918.0,48.5 L921.6,50.6 L925.2,52.8 L928.7,55.1 L932.1,57.6 L935.4,60.2 L938.6,62.9 L941.7,65.8 L944.8,68.9 L947.6,72.1 L950.3,75.4 L952.9,78.9 L955.2,82.4 L957.3,86.1 L959.1,90.0 L960.6,93.9 L961.9,97.9 L962.9,101.9 L963.8,106.1 L964.4,110.3 L964.9,114.5 L965.2,118.7 L965.3,123.0 L965.4,127.3 L965.2,140 L965.2,178.3" fill="none" stroke="#5E81B5" stroke-width="7.4" stroke-linejoin="round"/>
<text x="116.6" y="58.0" font-size="28.6" text-anchor="end">10<tspan font-size="20.2" dy="-13.3">–</tspan><tspan font-size="20.2" dy="0.9">1</tspan></text>
<text x="116.5" y="153.5" font-size="28.6" text-anchor="end">10<tspan font-size="20.2" dy="-13.3">–</tspan><tspan font-size="20.2" dy="0.9">3</tspan></text>
<text x="116.5" y="248.9" font-size="28.6" text-anchor="end">10<tspan font-size="20.2" dy="-13.3">–</tspan><tspan font-size="20.2" dy="0.9">5</tspan></text>
<text x="116.5" y="344.4" font-size="28.6" text-anchor="end">10<tspan font-size="20.2" dy="-13.3">–</tspan><tspan font-size="20.2" dy="0.9">7</tspan></text>
<text x="116.5" y="439.8" font-size="28.6" text-anchor="end">10<tspan font-size="20.2" dy="-13.3">–</tspan><tspan font-size="20.2" dy="0.9">9</tspan></text>
<text x="115.0" y="535.3" font-size="28.6" text-anchor="end">10<tspan font-size="20.2" dy="-13.3">–</tspan><tspan font-size="20.2" dy="0.9">11</tspan></text>
<text x="235.5" y="565.8" font-size="28.6" text-anchor="middle">10</text>
<text x="448.2" y="565.8" font-size="28.6" text-anchor="middle">1000</text>
<text x="661.1" y="565.8" font-size="28.6" text-anchor="middle">10<tspan font-size="20.2" dy="-12.4">5</tspan></text>
<text x="873.8" y="565.8" font-size="28.6" text-anchor="middle">10<tspan font-size="20.2" dy="-12.4">7</tspan></text>
<text x="553.6" y="607.5" font-size="29" text-anchor="middle">Body mass (g)</text>
<text transform="translate(27.4,117.0) rotate(-90)" font-size="29" text-anchor="end">Steady state (inds m<tspan font-size="20.2" dy="-12.4">–2</tspan><tspan font-size="29" dy="12.4">)</tspan></text>
<text x="697.6" y="215.2" font-size="24" text-anchor="middle">10</text>
<text x="948.8" y="215.2" font-size="24" text-anchor="middle">10<tspan font-size="16.8" dy="-10.4">7</tspan></text>
<text x="831" y="244.2" font-size="25" text-anchor="middle">Body mass (g)</text>
<text transform="translate(678.9,110.5) rotate(-90)" font-size="25"><tspan font-style="italic">R</tspan><tspan dx="1.6" dy="-2.6" font-size="21.5">*</tspan></text>
</svg></body></html>
